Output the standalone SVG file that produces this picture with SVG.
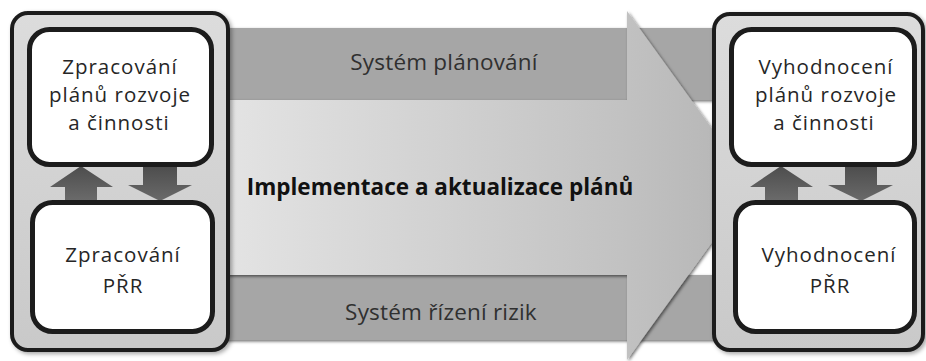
<svg xmlns="http://www.w3.org/2000/svg" width="926" height="361" viewBox="0 0 926 361">
  <defs>
    <linearGradient id="shaftGrad" gradientUnits="userSpaceOnUse" x1="220" y1="0" x2="753" y2="0">
      <stop offset="0" stop-color="#e4e4e4"/>
      <stop offset="0.75" stop-color="#c2c2c2"/>
      <stop offset="1" stop-color="#b4b4b4"/>
    </linearGradient>
    <linearGradient id="panelGrad" x1="0" y1="0" x2="0" y2="1">
      <stop offset="0" stop-color="#dcdcdc"/>
      <stop offset="1" stop-color="#c9c9c9"/>
    </linearGradient>
    <linearGradient id="smallArrowGrad" x1="0" y1="0" x2="0" y2="1">
      <stop offset="0" stop-color="#4d4d4d"/>
      <stop offset="1" stop-color="#6a6a6a"/>
    </linearGradient>
    <filter id="shadow" x="-5%" y="-5%" width="115%" height="115%">
      <feDropShadow dx="1.5" dy="1.5" stdDeviation="1.5" flood-color="#000" flood-opacity="0.55"/>
    </filter>
    <filter id="softShadow" x="-5%" y="-5%" width="115%" height="115%">
      <feDropShadow dx="2" dy="2" stdDeviation="2" flood-color="#000" flood-opacity="0.35"/>
    </filter>
  </defs>
  <style>
    .band { fill: #a6a6a6; }
    .bandText { font-family: "Open Sans", "Noto Sans", sans-serif; font-size: 22.5px; letter-spacing: 0.2px; fill: #303030; text-anchor: middle; }
    .mainText { font-family: "Open Sans", "Noto Sans", sans-serif; font-size: 22.5px; font-weight: bold; fill: #111; text-anchor: middle; }
    .panel { fill: url(#panelGrad); stroke: #1c1c1c; stroke-width: 4; }
    .box { fill: #ffffff; stroke: #1c1c1c; stroke-width: 5; }
    .label { font-family: "Open Sans", "Noto Sans", sans-serif; font-size: 20.5px; letter-spacing: 1px; fill: #262626; text-anchor: middle; }
    .small { fill: url(#smallArrowGrad); }
  </style>

  <rect width="926" height="361" fill="#ffffff"/>

  <!-- process bands and the main implementation arrow -->
  <g id="flow">
    <rect class="band" x="220" y="28" width="495" height="72" filter="url(#shadow)"/>
    <rect class="band" x="220" y="275" width="495" height="65" filter="url(#shadow)"/>
    <text class="bandText" x="444" y="70">Systém plánování</text>
    <text class="bandText" x="441" y="320">Systém řízení rizik</text>
    <polygon points="220,100 627,100 627,11 753,185.5 627,360 627,275 220,275" fill="url(#shaftGrad)" filter="url(#shadow)"/>
    <text class="mainText" x="440" y="195">Implementace a aktualizace plánů</text>
  </g>

  <!-- left panel: preparation -->
  <g id="panel-left">
    <rect class="panel" x="12" y="13" width="216" height="337" rx="16" filter="url(#softShadow)"/>
  </g>
  <g id="connectors-left">
    <polygon class="small" points="65,200 97,200 97,187 113,187 81,166 50,187 65,187"/>
    <polygon class="small" points="143,166 177,166 177,185 192,185 160,201 128,185 143,185"/>
  </g>
  <g id="node-zpracovani-planu">
    <rect class="box" x="29.5" y="29.5" width="182" height="135" rx="20"/>
    <text class="label" y="74"><tspan x="120">Zpracování</tspan><tspan x="120" dy="28">plánů rozvoje</tspan><tspan x="119" dy="28">a činnosti</tspan></text>
  </g>
  <g id="node-zpracovani-prr">
    <rect class="box" x="32.5" y="202.5" width="180" height="129" rx="20"/>
    <text class="label" y="262"><tspan x="123">Zpracování</tspan><tspan x="123" dy="31">PŘR</tspan></text>
  </g>

  <!-- right panel: evaluation -->
  <g id="panel-right">
    <rect class="panel" x="714" y="14" width="209" height="336" rx="16" filter="url(#softShadow)"/>
  </g>
  <g id="connectors-right">
    <polygon class="small" points="765,200 798,200 798,187 813,187 781,166 750,187 765,187"/>
    <polygon class="small" points="845,166 877,166 877,185 893,185 861,201 828,185 845,185"/>
  </g>
  <g id="node-vyhodnoceni-planu">
    <rect class="box" x="731.5" y="29.5" width="183" height="135" rx="20"/>
    <text class="label" y="74"><tspan x="826">Vyhodnocení</tspan><tspan x="826" dy="28">plánů rozvoje</tspan><tspan x="824" dy="28">a činnosti</tspan></text>
  </g>
  <g id="node-vyhodnoceni-prr">
    <rect class="box" x="735.5" y="202.5" width="179" height="129" rx="20"/>
    <text class="label" y="262"><tspan x="829">Vyhodnocení</tspan><tspan x="830" dy="31">PŘR</tspan></text>
  </g>
</svg>
